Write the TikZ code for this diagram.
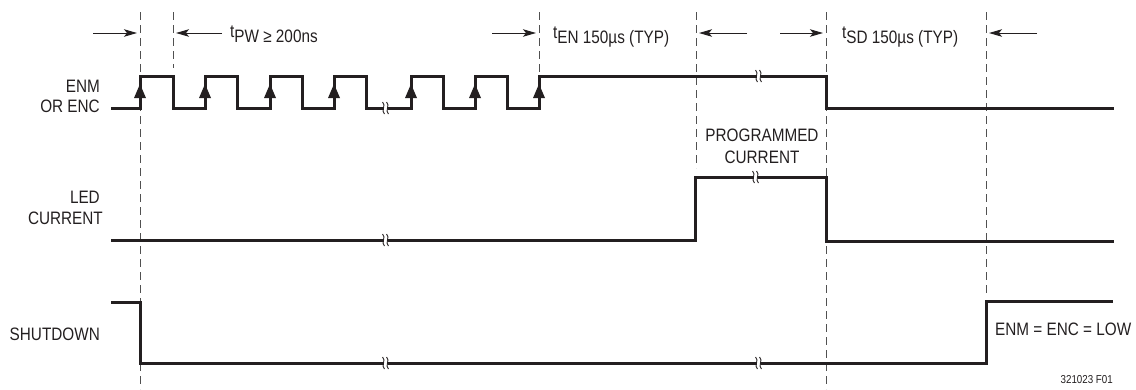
\documentclass[tikz,border=0pt]{standalone}
\usepackage{fontspec}
\setmainfont{Liberation Sans}[FakeStretch=0.85]
\usetikzlibrary{arrows.meta}
\definecolor{sigc}{HTML}{231F20}
\definecolor{guidec}{HTML}{505050}
\tikzset{
  sig/.style={line width=3pt, draw=sigc, line join=miter, line cap=butt},
  guide/.style={line width=1pt, draw=guidec, dash pattern=on 8pt off 5pt},
  dim/.style={line width=1pt, draw=sigc, -{Stealth[length=13pt,width=7.5pt,inset=3pt]}},
  lbl/.style={font=\fontsize{18}{21}\selectfont, inner sep=0pt, text=sigc},
  small/.style={font=\fontsize{11.5}{13}\selectfont, inner sep=0pt, text=sigc},
}
\newcommand{\tsub}[1]{\raisebox{5pt}{t}#1}
\begin{document}
\begin{tikzpicture}[x=1pt,y=-1pt]
\useasboundingbox (0,0) rectangle (1136,389);

% guide lines
\coordinate (g1t) at (140,12); \coordinate (g1b) at (140,389);
\coordinate (g2t) at (173,12); \coordinate (g2b) at (173,68);
\coordinate (g3t) at (539,12); \coordinate (g3b) at (539,72);
\coordinate (g4t) at (696,12); \coordinate (g4b) at (696,168);
\coordinate (g5t) at (826,12); \coordinate (g5b) at (826,389);
\coordinate (g6t) at (986,12); \coordinate (g6b) at (986,294);
\foreach \i in {1,...,6} \draw[guide] (g\i t) -- (g\i b);

% dimension arrows
\coordinate (a1s) at (93,33);  \coordinate (a1e) at (137,33);
\coordinate (a2s) at (222,33); \coordinate (a2e) at (176,33);
\coordinate (a3s) at (492,33); \coordinate (a3e) at (536,33);
\coordinate (a4s) at (747,33); \coordinate (a4e) at (699,33);
\coordinate (a5s) at (780,33); \coordinate (a5e) at (823,33);
\coordinate (a6s) at (1037,33);\coordinate (a6e) at (989,33);
\foreach \i in {1,...,6} \draw[dim] (a\i s) -- (a\i e);

\node[lbl, anchor=base west] (tpw) at (230,42) {\tsub{PW} ≥ 200ns};
\node[lbl, anchor=base west] (ten) at (553,43) {\tsub{EN} 150µs (TYP)};
\node[lbl, anchor=base west] (tsd) at (842,43) {\tsub{SD} 150µs (TYP)};

% signal labels
\node[lbl, anchor=base east] (enm) at (100,92) {ENM};
\node[lbl, anchor=base east] (orenc) at (100,112) {OR ENC};
\node[lbl, anchor=base east] (led) at (100,203) {LED};
\node[lbl, anchor=base east] (ledc) at (103,224) {CURRENT};
\node[lbl, anchor=base east] (sd) at (100,340) {SHUTDOWN};
\node[lbl, anchor=base] (prog) at (762,141) {PROGRAMMED};
\node[lbl, anchor=base] (progc) at (762,163) {CURRENT};
\node[lbl, anchor=base west] (low) at (995,335) {ENM = ENC = LOW};
\node[small, anchor=base east] (fig) at (1113,383) {321023 F01};

% ENM / ENC
\draw[sig] (111,108) -- (140,108) -- (140,76) -- (173,76) -- (173,108)
  -- (205,108) -- (205,76) -- (237,76) -- (237,108)
  -- (270,108) -- (270,76) -- (302,76) -- (302,108)
  -- (334,108) -- (334,76) -- (366,76) -- (366,108)
  -- (411,108) -- (411,76) -- (443,76) -- (443,108)
  -- (475,108) -- (475,76) -- (507,76) -- (507,108)
  -- (539,108) -- (539,76) -- (826,76) -- (826,108) -- (1114,108);
\foreach \x in {140,205,270,334,411,475,539}
  \fill[sigc] (\x-6,98) -- (\x,84) -- (\x+6,98) -- cycle;

% LED current
\draw[sig] (111,240) -- (695,240) -- (695,177) -- (826,177) -- (826,241) -- (1114,241);

% SHUTDOWN
\draw[sig] (111,302) -- (140,302) -- (140,363) -- (986,363) -- (986,301) -- (1113,301);

% breaks
\foreach \x/\y in {386/108, 759/76, 386/240, 756/177, 386/363, 759/363} {
  \fill[white] (\x-2.2,\y-2.5) rectangle (\x+2.2,\y+2.5);
  \draw[sigc, line width=0.9pt] (\x-3.5,\y-6) .. controls (\x+0.5,\y-3) and (\x-5.5,\y+3) .. (\x-1.5,\y+6);
  \draw[sigc, line width=0.9pt] (\x+0.5,\y-6) .. controls (\x+4.5,\y-3) and (\x-1.5,\y+3) .. (\x+2.5,\y+6);
}
\end{tikzpicture}
\end{document}
